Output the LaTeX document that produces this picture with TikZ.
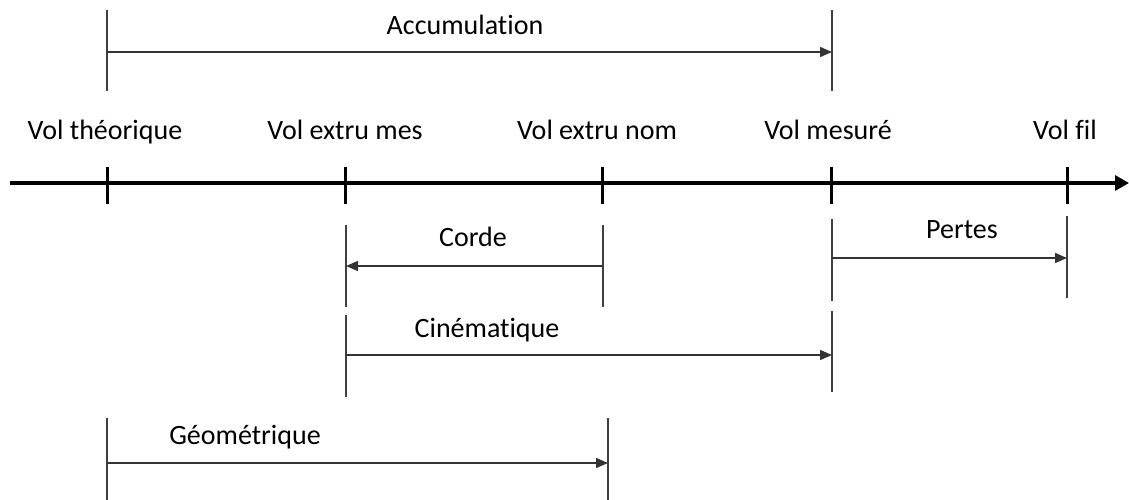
\documentclass[tikz,border=0pt]{standalone}
\usepackage{fontspec}
\setmainfont{Carlito}[Ligatures=NoCommon]
\usetikzlibrary{arrows.meta}

\begin{document}
\begin{tikzpicture}[x=1pt, y=-1pt,
    lbl/.style={font=\fontsize{28}{34}\selectfont, inner sep=0pt, text height=19pt, text depth=6pt},
    bound/.style={line width=1.4pt, black!75},
    span/.style={line width=1.4pt, black!80, -{Triangle[length=12pt, width=10pt]}},
    tick/.style={line width=3pt}]
    \useasboundingbox (0,0) rectangle (1129,500);
    % Axis with its ticks
    \coordinate (start) at (10,183);
    \coordinate (end) at (1129,183);
    \coordinate (th) at (107,183);
    \coordinate (em) at (345,183);
    \coordinate (en) at (602,183);
    \coordinate (me) at (831,183);
    \coordinate (fi) at (1067,183);
    \draw[line width=3.2pt, -{Triangle[length=14pt, width=15pt]}] (start) -- (end);
    \foreach \p in {th, em, en, me, fi}
        \draw[tick] ([yshift=16pt]\p) -- ([yshift=-21pt]\p);
    % Labels of the ticks
    \node[lbl] (lth) at (105,133) {Vol théorique};
    \node[lbl] (lem) at (345,133) {Vol extru mes};
    \node[lbl] (len) at (597,133) {Vol extru nom};
    \node[lbl] (lme) at (828,133) {Vol mesuré};
    \node[lbl] (lfi) at (1065,133) {Vol fil};
    % Accumulation
    \draw[bound] (107,10) -- (107,91);
    \draw[bound] (832,10) -- (832,91);
    \coordinate (acc1) at (107,52);
    \coordinate (acc2) at (832,52);
    \draw[span] (acc1) -- (acc2);
    \node[lbl] (acc) at (465,28) {Accumulation};
    % Corde
    \draw[bound] (346,225) -- (346,307);
    \draw[bound] (603,225) -- (603,307);
    \coordinate (cor1) at (603,266);
    \coordinate (cor2) at (346,266);
    \draw[span] (cor1) -- (cor2);
    \node[lbl] (cor) at (473,240) {Corde};
    % Pertes
    \draw[bound] (832,219) -- (832,301);
    \draw[bound] (1067,216) -- (1067,298);
    \coordinate (per1) at (832,258);
    \coordinate (per2) at (1067,258);
    \draw[span] (per1) -- (per2);
    \node[lbl] (per) at (962,232) {Pertes};
    % Cinématique
    \draw[bound] (346,315) -- (346,397);
    \draw[bound] (832,311) -- (832,392);
    \coordinate (cin1) at (346,355);
    \coordinate (cin2) at (832,355);
    \draw[span] (cin1) -- (cin2);
    \node[lbl] (cin) at (487,331) {Cinématique};
    % Géométrique
    \draw[bound] (107,418) -- (107,500);
    \draw[bound] (608,418) -- (608,500);
    \coordinate (geo1) at (107,463);
    \coordinate (geo2) at (608,463);
    \draw[span] (geo1) -- (geo2);
    \node[lbl] (geo) at (245,438) {Géométrique};
\end{tikzpicture}
\end{document}
